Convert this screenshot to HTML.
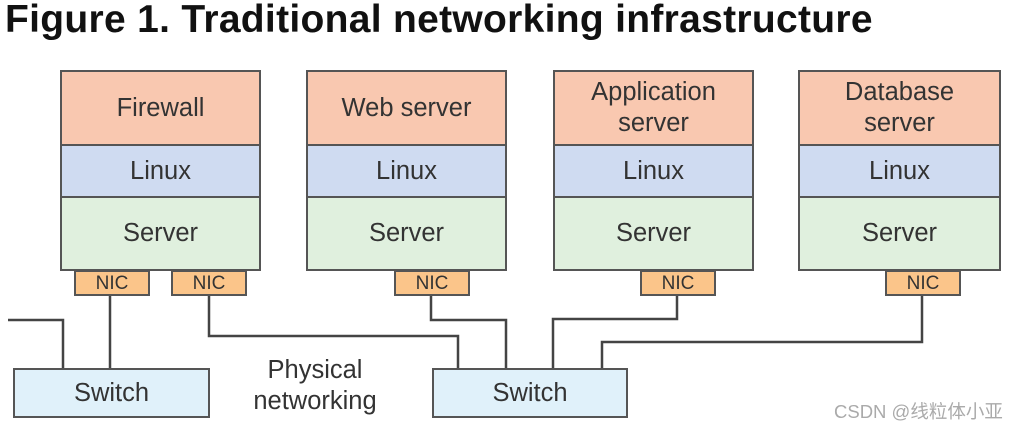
<!DOCTYPE html>
<html><head><meta charset="utf-8"><style>
body{margin:0;background:#fff;width:1011px;height:427px;overflow:hidden;position:relative;font-family:"Liberation Sans","Noto Sans CJK SC",sans-serif;color:#333}
.t{position:absolute;left:5px;top:-2px;font-size:39px;font-weight:bold;color:#111;white-space:nowrap;letter-spacing:0.3px}
.b{position:absolute;border:2px solid #555;box-sizing:border-box;display:flex;align-items:center;justify-content:center;text-align:center;font-size:25.5px;line-height:31px}
.o{background:#f9c8b0}.l{background:#cfdbf1}.g{background:#e0f0de}.n{background:#fbc58a;font-size:19px}.s{background:#e0f1fa}
</style></head><body>
<div class="t">Figure 1. Traditional networking infrastructure</div>
<svg width="1011" height="427" style="position:absolute;left:0;top:0" fill="none" stroke="#444" stroke-width="2.5">
<polyline points="8,320 63,320 63,369"/>
<polyline points="110,294 110,369"/>
<polyline points="209,294 209,336 458,336 458,369"/>
<polyline points="431,294 431,320 506,320 506,369"/>
<polyline points="677,294 677,319 553,319 553,369"/>
<polyline points="922,294 922,342 602,342 602,369"/>
</svg>
<div class="b o" style="left:60px;top:70px;width:201px;height:76px">Firewall</div>
<div class="b l" style="left:60px;top:144px;width:201px;height:54px">Linux</div>
<div class="b g" style="left:60px;top:196px;width:201px;height:75px">Server</div>
<div class="b o" style="left:306px;top:70px;width:201px;height:76px">Web server</div>
<div class="b l" style="left:306px;top:144px;width:201px;height:54px">Linux</div>
<div class="b g" style="left:306px;top:196px;width:201px;height:75px">Server</div>
<div class="b o" style="left:553px;top:70px;width:201px;height:76px">Application<br>server</div>
<div class="b l" style="left:553px;top:144px;width:201px;height:54px">Linux</div>
<div class="b g" style="left:553px;top:196px;width:201px;height:75px">Server</div>
<div class="b o" style="left:798px;top:70px;width:203px;height:76px">Database<br>server</div>
<div class="b l" style="left:798px;top:144px;width:203px;height:54px">Linux</div>
<div class="b g" style="left:798px;top:196px;width:203px;height:75px">Server</div>
<div class="b n" style="left:74px;top:270px;width:76px;height:26px">NIC</div>
<div class="b n" style="left:171px;top:270px;width:76px;height:26px">NIC</div>
<div class="b n" style="left:394px;top:270px;width:76px;height:26px">NIC</div>
<div class="b n" style="left:640px;top:270px;width:76px;height:26px">NIC</div>
<div class="b n" style="left:885px;top:270px;width:76px;height:26px">NIC</div>
<div class="b s" style="left:13px;top:368px;width:197px;height:50px">Switch</div>
<div class="b s" style="left:432px;top:368px;width:196px;height:50px">Switch</div>
<div style="position:absolute;left:230px;top:355px;width:170px;text-align:center;font-size:25.5px;line-height:31px">Physical<br>networking</div>
<div style="position:absolute;left:834px;top:398px;font-size:18.5px;color:#aaa;white-space:nowrap">CSDN @线粒体小亚</div>
</body></html>
